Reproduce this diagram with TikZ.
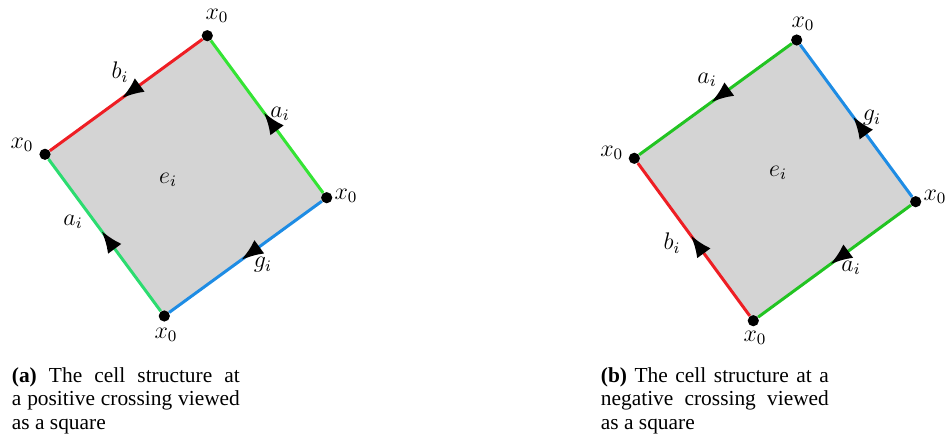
\documentclass[tikz,border=0pt]{standalone}
\usepackage{fontspec}
\newfontfamily\capfont{Liberation Serif}
\usetikzlibrary{arrows.meta, decorations.markings, backgrounds}
\definecolor{edgered}{RGB}{238,30,36}
\definecolor{edgegreen}{RGB}{52,228,52}
\definecolor{edgeteal}{RGB}{44,220,112}
\definecolor{edgegreenb}{RGB}{34,196,34}
\definecolor{edgeblue}{RGB}{30,140,228}
\tikzset{
  vertex/.style={circle, fill=black, inner sep=0pt, minimum size=5.6pt},
  edge/.style={line width=1.5pt, postaction={decorate},
    decoration={markings, mark=at position 0.53 with {\arrow[black, scale=1.15]{Latex}}}},
  cellfill/.style={fill=black!17},
  lbl/.style={inner sep=0pt, font=\fontsize{12}{14}\selectfont},
  caption/.style={anchor=north west, inner sep=0pt, text width=114pt, align=justify,
    font=\capfont\fontsize{10.7}{11.75}\selectfont}
}

\begin{document}
\begin{tikzpicture}[x=0.5pt, y=-0.5pt]
    \useasboundingbox (0,0) rectangle (948,438);

    % (a) positive crossing
    \foreach \name/\x/\y in {aT/207.3/35.7, aL/45/154.3, aR/326.7/197.7, aB/164.3/316} {
        \node[vertex] (\name) at (\x,\y) {};
    }
    \begin{scope}[on background layer]
        \fill[cellfill] (aT.center) -- (aL.center) -- (aB.center) -- (aR.center) -- cycle;
    \end{scope}
    \draw[edge, edgered] (aT) -- (aL);
    \draw[edge, edgegreen] (aR) -- (aT);
    \draw[edge, edgeblue] (aR) -- (aB);
    \draw[edge, edgeteal] (aB) -- (aL);

    \node[lbl] (aTx) at (217,16) {$x_0$};
    \node[lbl] (aLx) at (22,145) {$x_0$};
    \node[lbl] (aRx) at (346,196) {$x_0$};
    \node[lbl] (aBx) at (166,335) {$x_0$};
    \node[lbl] (ab) at (120,72) {$b_i$};
    \node[lbl] (aa1) at (280,114) {$a_i$};
    \node[lbl] (aa2) at (73,222) {$a_i$};
    \node[lbl] (ag) at (263,265) {$g_i$};
    \node[lbl] (ae) at (168,180) {$e_i$};

    % (b) negative crossing
    \foreach \name/\x/\y in {bT/796.7/40, bL/634.3/158.3, bR/915.7/201.7, bB/753.3/320.7} {
        \node[vertex] (\name) at (\x,\y) {};
    }
    \begin{scope}[on background layer]
        \fill[cellfill] (bT.center) -- (bL.center) -- (bB.center) -- (bR.center) -- cycle;
    \end{scope}
    \draw[edge, edgegreenb] (bT) -- (bL);
    \draw[edge, edgeblue] (bR) -- (bT);
    \draw[edge, edgegreenb] (bR) -- (bB);
    \draw[edge, edgered] (bB) -- (bL);

    \node[lbl] (bTx) at (803,24) {$x_0$};
    \node[lbl] (bLx) at (611.7,153) {$x_0$};
    \node[lbl] (bRx) at (935,197) {$x_0$};
    \node[lbl] (bBx) at (755,338) {$x_0$};
    \node[lbl] (ba1) at (707,80) {$a_i$};
    \node[lbl] (bg) at (872,118) {$g_i$};
    \node[lbl] (ba2) at (851,268) {$a_i$};
    \node[lbl] (bb) at (672,243) {$b_i$};
    \node[lbl] (be) at (778,173) {$e_i$};

    % captions
    \node[caption] (capA) at (11.5,367) {\textbf{(a)} The cell structure at\linebreak a positive crossing viewed\linebreak as a square};
    \node[caption] (capB) at (600.5,367) {\textbf{(b)} The cell structure at a\linebreak negative crossing viewed\linebreak as a square};

\end{tikzpicture}
\end{document}
